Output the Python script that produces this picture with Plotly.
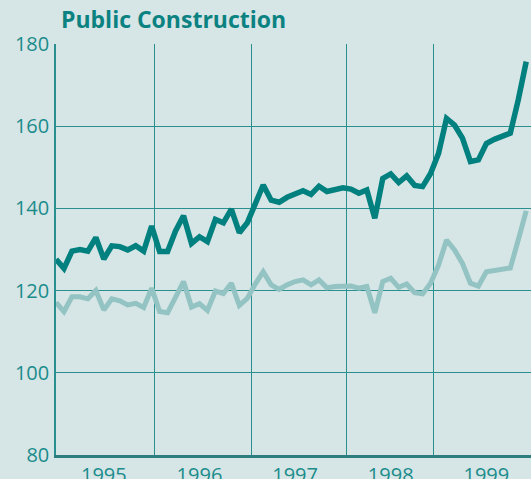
import plotly.graph_objects as go

# Monthly index values, Jan 1995 .. Dec 1999
months = [f"{y}-{m:02d}" for y in range(1995, 2000) for m in range(1, 13)]
years = ["1995", "1996", "1997", "1998", "1999"]

dark_series = [
    127.6, 125.4, 129.6, 130.0, 129.6, 132.9, 127.7, 130.9, 130.7, 129.9, 130.9, 129.6,
    135.7, 129.5, 129.5, 134.5, 138.2, 131.5, 133.1, 131.9, 137.3, 136.5, 139.8, 134.1,
    136.5, 140.8, 145.7, 142.0, 141.5, 142.7, 143.6, 144.3, 143.4, 145.4, 144.1, 144.5,
    145.0, 144.7, 143.7, 144.5, 137.6, 147.3, 148.4, 146.3, 147.9, 145.6, 145.3, 148.5,
    153.4, 161.9, 160.3, 157.1, 151.4, 151.8, 155.8, 156.8, 157.5, 158.3, 166.4, 175.7,
]
light_series = [
    117.1, 114.9, 118.5, 118.5, 118.0, 120.0, 115.3, 118.0, 117.5, 116.5, 116.9, 115.9,
    120.6, 114.9, 114.6, 118.3, 122.2, 116.0, 116.8, 115.2, 119.9, 119.3, 121.8, 116.4,
    118.1, 121.6, 124.6, 121.4, 120.3, 121.4, 122.2, 122.6, 121.4, 122.6, 120.7, 121.0,
    121.2, 121.1, 120.6, 121.0, 114.6, 122.2, 123.0, 120.8, 121.6, 119.5, 119.2, 121.8,
    126.2, 132.3, 129.9, 126.6, 121.8, 121.1, 124.6, 125.0, 125.3, 125.5, 132.3, 139.4,
]

x = list(range(len(months)))

BG = "#d6e5e5"
TEAL = "#0b8282"
GRID = "#2a8f8f"

fig = go.Figure()
fig.add_trace(go.Scatter(x=x, y=light_series, mode="lines", customdata=months,
                         line=dict(color="#93c3c3", width=5), showlegend=False))
fig.add_trace(go.Scatter(x=x, y=dark_series, mode="lines", customdata=months,
                         line=dict(color="#00807e", width=5.5), showlegend=False))

fig.update_layout(
    width=531, height=479,
    margin=dict(l=56, r=0, t=44, b=24, autoexpand=False),
    paper_bgcolor=BG, plot_bgcolor=BG,
    font=dict(family="Open Sans", color="#1a8c8c", size=20),
    title=dict(text="<b>Public Construction</b>", xref="container", yref="container",
               x=61/531, xanchor="left", y=1-12/479, yanchor="top",
               font=dict(family="Open Sans", size=23, color=TEAL)),
)
fig.update_xaxes(
    range=[0, 59.6], showgrid=False, zeroline=False, automargin=False,
    tickvals=[6, 18, 30, 42, 54], ticktext=years, ticks="", ticklabelstandoff=0,
    showline=True, linecolor="#2b7d7e", linewidth=2.5,
    minor=dict(tickvals=[12.4, 24.5, 36.4, 47.4], showgrid=True, gridcolor=GRID, gridwidth=1.4, ticks=""),
)
fig.update_yaxes(
    range=[80, 180], tickvals=[80, 100, 120, 140, 160, 180], ticks="", automargin=False,
    showgrid=True, gridcolor=GRID, gridwidth=1.4, zeroline=False,
    showline=True, linecolor=GRID, linewidth=1.5, ticklabelstandoff=1,
)

fig.write_html(
    "out.html",
    config={"displayModeBar": False},
    post_script="document.body.style.margin='0';document.body.style.background='%s';" % BG,
)
